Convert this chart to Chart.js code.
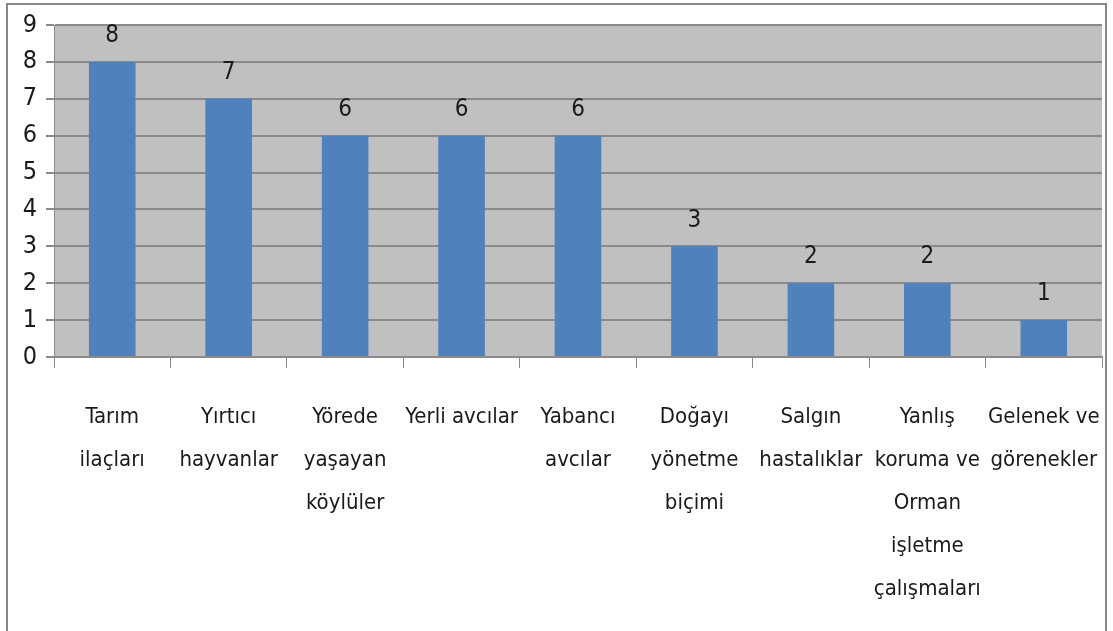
<!DOCTYPE html>
<html>
<head>
<meta charset="utf-8">
<script src="https://cdn.jsdelivr.net/npm/chart.js@4"></script>
<style>
    html, body { margin: 0; padding: 0; background: #fff; overflow: hidden; }
    #wrap { position: relative; width: 1113px; height: 631px; }
    #frame {
        position: absolute; left: 6px; top: 3px; width: 1101px; height: 640px;
        border: 2px solid #878787; box-sizing: border-box;
    }
    canvas { position: absolute; left: 0; top: 0; }
</style>
</head>
<body>
<div id="wrap">
    <div id="frame"></div>
    <canvas id="grafik" width="1113" height="631"></canvas>
</div>
<script>
const categories = [
    ['Tarım', 'ilaçları'],
    ['Yırtıcı', 'hayvanlar'],
    ['Yörede', 'yaşayan', 'köylüler'],
    ['Yerli avcılar'],
    ['Yabancı', 'avcılar'],
    ['Doğayı', 'yönetme', 'biçimi'],
    ['Salgın', 'hastalıklar'],
    ['Yanlış', 'koruma ve', 'Orman', 'işletme', 'çalışmaları'],
    ['Gelenek ve', 'görenekler']
];
const values = [8, 7, 6, 6, 6, 3, 2, 2, 1];
const yTicks = [0, 1, 2, 3, 4, 5, 6, 7, 8, 9];

const fontFamily = "'DejaVu Sans Condensed', sans-serif";

// writes the value above every bar
const valueLabels = {
    id: 'valueLabels',
    afterDatasetsDraw(chart) {
        const ctx = chart.ctx;
        const meta = chart.getDatasetMeta(0);
        ctx.save();
        ctx.font = `24px ${fontFamily}`;
        ctx.fillStyle = '#1a1a1a';
        ctx.textAlign = 'center';
        ctx.textBaseline = 'middle';
        meta.data.forEach((bar, i) => {
            ctx.fillText(String(values[i]), bar.x, bar.y - 26);
        });
        ctx.restore();
    }
};

new Chart(document.getElementById('grafik'), {
    type: 'bar',
    data: {
        labels: categories,
        datasets: [{
            data: values,
            backgroundColor: '#4f81bd',
            categoryPercentage: 1,
            barPercentage: 0.4
        }]
    },
    options: {
        responsive: false,
        animation: false,
        layout: { padding: { top: 25, right: 11, left: 0, bottom: 0 } },
        plugins: {
            legend: { display: false },
            tooltip: { enabled: false }
        },
        scales: {
            x: {
                afterFit: (scale) => {
                    scale.height = 274;
                    scale.paddingLeft = 0;
                    scale.paddingRight = 0;
                },
                grid: {
                    offset: true,
                    drawOnChartArea: false,
                    drawTicks: true,
                    tickLength: 11,
                    color: '#8a8a8a',
                    lineWidth: 1
                },
                border: { display: true, color: '#8a8a8a', width: 2 },
                ticks: {
                    maxRotation: 0,
                    autoSkip: false,
                    padding: 28,
                    color: '#1a1a1a',
                    font: { family: fontFamily, size: 22, lineHeight: 1.95 }
                }
            },
            y: {
                min: 0,
                max: 9,
                afterFit: (scale) => {
                    scale.width = 54;
                    scale.paddingTop = 0;
                    scale.paddingBottom = 0;
                },
                afterBuildTicks: (scale) => {
                    scale.ticks = yTicks.map(v => ({ value: v }));
                },
                grid: {
                    color: '#8a8a8a',
                    lineWidth: 2,
                    tickLength: 8
                },
                border: { display: true, color: '#8a8a8a', width: 1 },
                ticks: {
                    padding: 9,
                    color: '#1a1a1a',
                    font: { family: fontFamily, size: 25 }
                }
            }
        }
    },
    plugins: [valueLabels, {
        id: 'plotBackground',
        beforeDraw(chart) {
            const a = chart.chartArea;
            chart.ctx.save();
            chart.ctx.fillStyle = '#c0c0c0';
            chart.ctx.fillRect(a.left, a.top, a.right - a.left, a.bottom - a.top);
            chart.ctx.restore();
        }
    }]
});
</script>
</body>
</html>
